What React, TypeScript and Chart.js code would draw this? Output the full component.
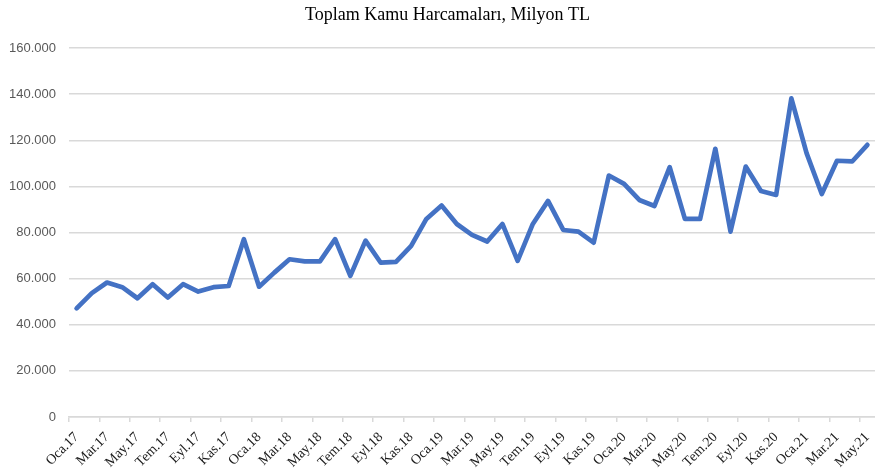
import React, { useEffect, useRef } from "react";
import { Chart, registerables } from "chart.js";

Chart.register(...registerables);

const MONTHS = ["Oca", "Şub", "Mar", "Nis", "May", "Haz", "Tem", "Ağu", "Eyl", "Eki", "Kas", "Ara"];
const YEARS = ["17", "18", "19", "20", "21"];

// Jan 2017 .. May 2021
const allMonths: string[] = [];
for (const y of YEARS) {
  for (const m of MONTHS) allMonths.push(`${m}.${y}`);
}
const labels = allMonths.slice(0, 53);

// Total public expenditure, million TL
const spending = [
  47100, 53700, 58300, 56300, 51500, 57600, 51800, 57600, 54400, 56300, 56800, 77100,
  56500, 62600, 68400, 67500, 67500, 77100, 61200, 76500, 66900, 67300, 74200, 85900,
  91700, 83700, 79000, 76100, 83700, 67700, 83700, 93700, 81100, 80400, 75600, 104700,
  101100, 94100, 91500, 108300, 85900, 85900, 116300, 80400, 108600, 98000, 96300, 138200,
  114400, 96700, 111100, 110800, 118000,
];

const yTicks = [0, 20000, 40000, 60000, 80000, 100000, 120000, 140000, 160000];
const titleText = "Toplam Kamu Harcamaları, Milyon TL";

function fmt(v: number): string {
  return String(Math.round(v)).replace(/\B(?=(\d{3})+(?!\d))/g, ".");
}

const titleShift = {
  id: "titleShift",
  afterLayout(chart: any) {
    const t = chart.titleBlock;
    if (t) t.left = 20;
  },
};

export default function App() {
  const ref = useRef<HTMLCanvasElement | null>(null);
  useEffect(() => {
    if (!ref.current) return;
    const chart = new Chart(ref.current, {
      type: "line",
      data: {
        labels,
        datasets: [
          {
            data: spending,
            borderColor: "#4472C4",
            borderWidth: 4.7,
            borderJoinStyle: "round",
            borderCapStyle: "round",
            pointRadius: 0,
            tension: 0,
            fill: false,
          },
        ],
      },
      plugins: [titleShift],
      options: {
        animation: false,
        responsive: false,
        maintainAspectRatio: false,
        layout: { padding: { left: 0, right: 0, top: 0, bottom: 0 } },
        plugins: {
          legend: { display: false },
          tooltip: { enabled: false },
          title: {
            display: true,
            text: titleText,
            color: "#000000",
            font: { family: "Liberation Serif", size: 18, weight: "normal" },
            padding: { top: 4, bottom: 22.4 },
          },
        },
        scales: {
          x: {
            type: "category",
            offset: true,
            grid: {
              offset: true,
              drawOnChartArea: false,
              drawTicks: true,
              tickLength: 5,
              color: (ctx: any) => (ctx.index % 2 === 0 ? "#d9d9d9" : "rgba(0,0,0,0)"),
              lineWidth: 1.5,
            },
            border: { display: true, color: "#d9d9d9", width: 1.5 },
            ticks: {
              autoSkip: false,
              maxRotation: 45,
              minRotation: 45,
              padding: 7,
              color: "#1a1a1a",
              font: { family: "Liberation Serif", size: 14 },
              callback: function (_v: any, i: number) {
                return i % 2 === 0 ? labels[i] : "";
              },
            },
            afterFit: (scale: any) => {
              scale.height = 54;
              scale.paddingLeft = 0;
              scale.paddingRight = 0;
            },
          },
          y: {
            min: 0,
            max: 160000,
            afterBuildTicks: (scale: any) => {
              scale.ticks = yTicks.map((v) => ({ value: v }));
            },
            grid: { color: "#d9d9d9", lineWidth: 1.5, drawTicks: false },
            border: { display: false },
            ticks: {
              padding: 13,
              color: "#595959",
              font: { family: "Liberation Sans", size: 13 },
              callback: (v: any) => fmt(Number(v)),
            },
            afterFit: (scale: any) => {
              scale.width = 69;
            },
          },
        },
      },
    });
    return () => chart.destroy();
  }, []);
  return (
    <div style={{ position: "fixed", left: 0, top: 0, width: 875, height: 471, background: "#fff" }}>
      <canvas ref={ref} width={875} height={471} style={{ width: 875, height: 471 }} />
    </div>
  );
}
